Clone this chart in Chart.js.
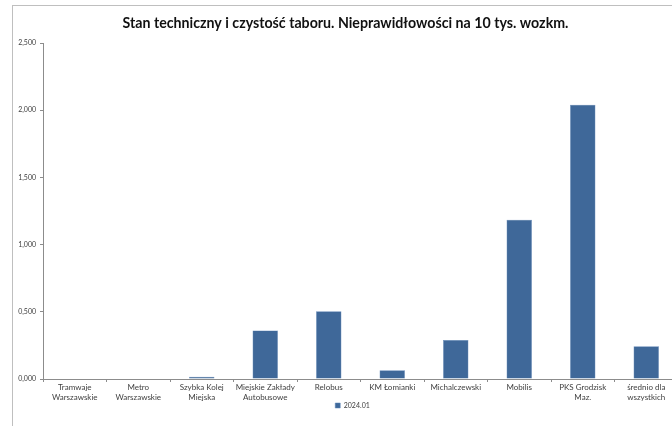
<!DOCTYPE html>
<html>
<head>
<meta charset="utf-8">
<script src="https://cdn.jsdelivr.net/npm/chart.js@4/dist/chart.umd.min.js"></script>
<style>
  html, body { margin: 0; padding: 0; background: #fff; overflow: hidden; width: 672px; height: 426px; }
  #frame { position: absolute; left: 12px; top: 5px; width: 690px; height: 430px; border: 1px solid #bfbfbf; background: #fff; }
  #chart { display: block; }
</style>
</head>
<body>
<div id="frame"><canvas id="chart" width="680" height="420"></canvas></div>
<script>
// kategorie (przewoźnicy)
const kategorie = [
    ['Tramwaje', 'Warszawskie'],
    ['Metro', 'Warszawskie'],
    ['Szybka Kolej', 'Miejska'],
    ['Miejskie Zakłady', 'Autobusowe'],
    'Relobus',
    'KM Łomianki',
    'Michalczewski',
    'Mobilis',
    ['PKS Grodzisk', 'Maz.'],
    ['średnio dla', 'wszystkich']
];
// nieprawidłowości na 10 tys. wozkm, 2024.01
const wartosci2024_01 = [0, 0, 0.017, 0.36, 0.505, 0.065, 0.29, 1.185, 2.04, 0.243];
const etykietaSerii = '2024.01';
const tytul = 'Stan techniczny i czystość taboru. Nieprawidłowości na 10 tys. wozkm.';

const osY = { min: 0, max: 2.5, krok: 0.5 };

function formatujLiczbe(v) {
    return v.toFixed(3).replace('.', ',');
}

// legenda troche wyzej (nachodzi na obszar etykiet osi X) i w prawo
const przesunLegende = {
    id: 'przesunLegende',
    afterLayout(chart) {
        const lg = chart.legend;
        if (lg) {
            lg.top -= 5; lg.bottom -= 5;
            lg.left += 7; lg.right += 7;
        }
    }
};

const ctx = document.getElementById('chart').getContext('2d');
new Chart(ctx, {
    type: 'bar',
    data: {
        labels: kategorie,
        datasets: [{
            label: etykietaSerii,
            data: wartosci2024_01,
            backgroundColor: '#3f6899',
            borderColor: '#5b84b8',
            borderWidth: 0.5,
            barPercentage: 0.4,
            categoryPercentage: 1.0
        }]
    },
    plugins: [przesunLegende],
    options: {
        responsive: false,
        animation: false,
        layout: { padding: { left: 0, right: 15, top: 0, bottom: 2 } },
        plugins: {
            title: {
                display: true,
                text: tytul,
                color: '#111',
                font: { family: 'Lato', size: 14.2, weight: 'bold' },
                padding: { top: 9, bottom: 11 }
            },
            legend: {
                position: 'bottom',
                labels: {
                    boxWidth: 5,
                    boxHeight: 5,
                    padding: 4,
                    color: '#404040',
                    font: { family: 'Lato', size: 7 }
                }
            },
            tooltip: { enabled: false }
        },
        scales: {
            x: {
                grid: { drawOnChartArea: false, tickLength: 3, color: '#8c8c8c', offset: true },
                border: { color: '#8c8c8c' },
                ticks: {
                    color: '#404040',
                    font: { family: 'Lato', size: 8, lineHeight: 1.3 },
                    maxRotation: 0,
                    autoSkip: false,
                    padding: 0
                },
                afterFit: function(scale) { scale.height = 24; }
            },
            y: {
                min: osY.min,
                max: osY.max,
                grid: { drawOnChartArea: false, tickLength: 3, color: '#8c8c8c' },
                border: { color: '#8c8c8c' },
                ticks: {
                    stepSize: osY.krok,
                    color: '#404040',
                    font: { family: 'Lato', size: 7 },
                    padding: 4,
                    callback: function(v) { return formatujLiczbe(v); }
                },
                afterFit: function(scale) { scale.width = 30; }
            }
        }
    }
});
</script>
</body>
</html>
